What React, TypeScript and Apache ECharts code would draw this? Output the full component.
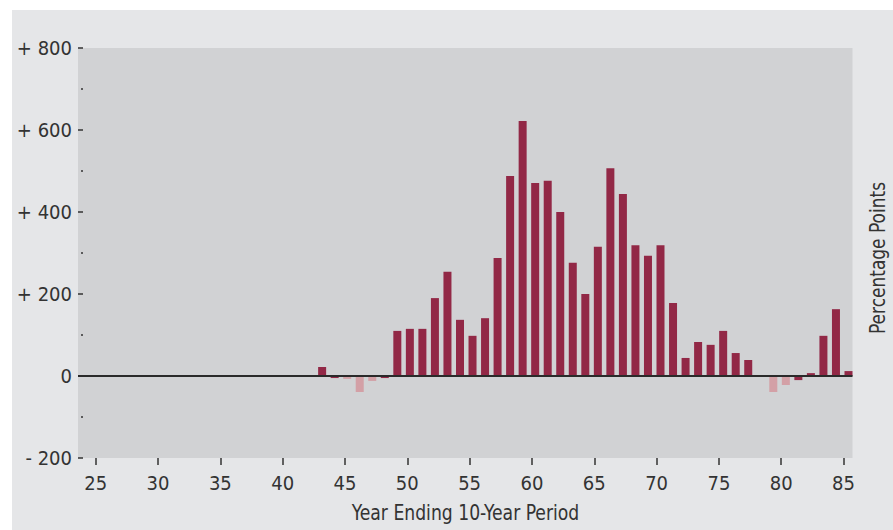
import React, { useEffect, useRef } from "react";
import * as echarts from "echarts";

const years = [
  43, 44, 45, 46, 47, 48, 49, 50, 51, 52, 53, 54, 55, 56, 57, 58, 59, 60, 61, 62, 63, 64,
  65, 66, 67, 68, 69, 70, 71, 72, 73, 74, 75, 76, 77, 78, 79, 80, 81, 82, 83, 84, 85,
];
const values = [
  22, -5, -7, -39, -12, -5, 110, 115, 115, 190, 254, 137, 98, 141, 288, 488, 622, 471, 476, 400, 276, 200,
  315, 507, 444, 319, 293, 319, 178, 44, 83, 76, 110, 56, 39, 0, -39, -22, -10, 7, 98, 163, 12,
];
const lightYears = [45, 46, 47, 79, 80];
const xTickLabels = [25, 30, 35, 40, 45, 50, 55, 60, 65, 70, 75, 80, 85];
const xAxisTitle = "Year Ending 10-Year Period";
const yAxisTitle = "Percentage Points";

const FONT = "'Liberation Sans Narrow', 'DejaVu Sans Condensed', 'Roboto', sans-serif";
const TEXT = "#333333";
const DARK = "#922846";
const LIGHT = "#d3a0a6";

export default function App() {
  const ref = useRef<HTMLDivElement>(null);
  useEffect(() => {
    if (!ref.current) return;
    const chart = echarts.init(ref.current, undefined, { renderer: "svg" });
    const data = years.map((y, i) => ({
      value: [y, values[i]],
      itemStyle: { color: lightYears.includes(y) ? LIGHT : DARK },
    }));
    chart.setOption({
      animation: false,
      backgroundColor: "#e5e6e8",
      grid: {
        left: 66,
        top: 38,
        right: 40.5,
        bottom: 72,
        show: true,
        backgroundColor: "#d1d2d4",
        borderWidth: 0,
        containLabel: false,
      },
      xAxis: [
        {
          type: "value",
          min: 23.58,
          max: 85.72,
          position: "bottom",
          axisLine: { show: true, onZero: false, lineStyle: { color: "#d1d2d4", width: 0, opacity: 0 } },
          splitLine: { show: false },
          axisTick: {
            show: true,
            length: 7,
            customValues: xTickLabels,
            lineStyle: { color: TEXT, width: 1.5 },
          },
          axisLabel: {
            customValues: xTickLabels,
            fontFamily: FONT,
            fontSize: 20,
            color: TEXT,
            margin: 15,
          },
        },
        {
          type: "value",
          min: 23.52,
          max: 85.32,
          show: false,
        },
      ],
      yAxis: {
        type: "value",
        min: -200,
        max: 800,
        interval: 200,
        axisLine: { show: false },
        splitLine: { show: false },
        axisTick: {
          show: true,
          inside: true,
          length: 5,
          lineStyle: { color: TEXT, width: 1.5 },
        },
        minorTick: {
          show: true,
          splitNumber: 2,
          length: 5,
          lineStyle: { color: TEXT, width: 1.5, type: [0, 3, 2, 10] },
        },
        minorSplitLine: { show: false },
        axisLabel: {
          fontFamily: FONT,
          fontSize: 20,
          color: TEXT,
          margin: 6,
          formatter: (v: number) => (v > 0 ? "+ " + v : v < 0 ? "- " + Math.abs(v) : "0"),
        },
      },
      graphic: [
        {
          type: "text",
          x: 453.5,
          y: 503,
          scaleX: 0.87,
          style: {
            text: xAxisTitle,
            fontFamily: FONT,
            fontSize: 22,
            fill: TEXT,
            align: "center",
            verticalAlign: "middle",
          },
        },
        {
          type: "text",
          x: 865,
          y: 248,
          rotation: Math.PI / 2,
          scaleX: 0.86,
          style: {
            text: yAxisTitle,
            fontFamily: FONT,
            fontSize: 22,
            fill: TEXT,
            align: "center",
            verticalAlign: "middle",
          },
        },
      ],
      series: [
        {
          type: "bar",
          xAxisIndex: 1,
          yAxisIndex: 0,
          barWidth: 8,
          data,
          markLine: {
            silent: true,
            symbol: "none",
            label: { show: false },
            lineStyle: { color: "#2a2a2a", width: 2, type: "solid" },
            data: [{ yAxis: 0 }],
          },
        },
      ],
    });
    return () => chart.dispose();
  }, []);
  return (
    <div style={{ position: "fixed", left: 0, top: 0, width: 893, height: 530, background: "#ffffff" }}>
      <div ref={ref} style={{ position: "absolute", left: 12, top: 10, width: 881, height: 520 }} />
    </div>
  );
}
